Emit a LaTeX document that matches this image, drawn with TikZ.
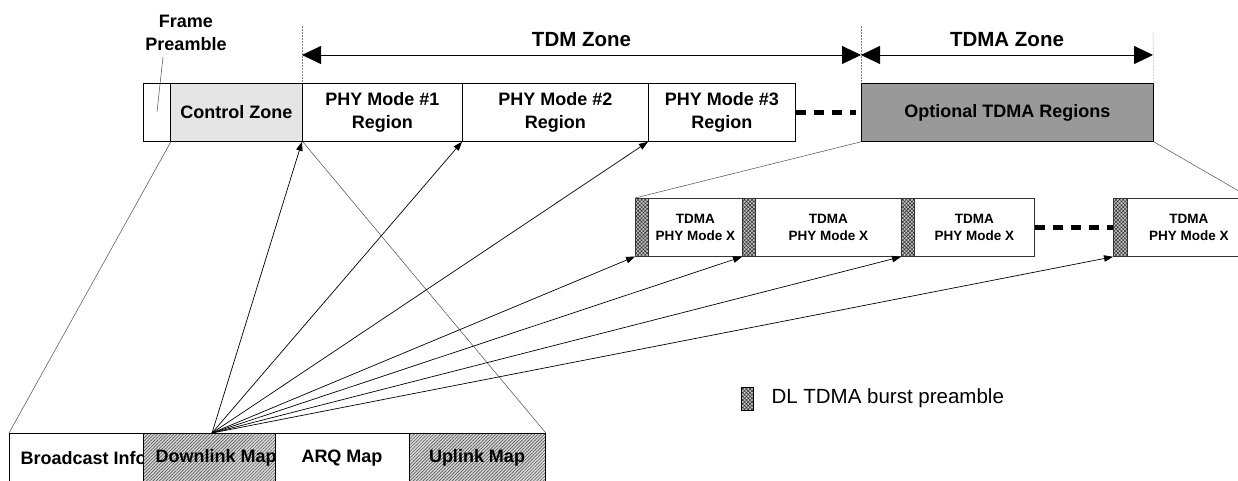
\documentclass[tikz,border=0pt]{standalone}
\usepackage{fontspec}
\setmainfont{Liberation Sans}
\usetikzlibrary{arrows.meta,patterns.meta}
\begin{document}
\begin{tikzpicture}[x=1pt,y=-1pt,
  lbl/.style={font=\fontsize{18}{23}\selectfont\bfseries, align=center},
  small/.style={font=\fontsize{13.5}{17}\selectfont\bfseries, align=center},
  box/.style={draw=black, line width=0.8pt, inner sep=0pt, anchor=north west},
  mbox/.style={draw=black!80, line width=0.8pt, inner sep=0pt, anchor=north west, fill=white, minimum height=58pt},
  hatchmap/.style={preaction={fill=gray!30}, pattern={Lines[angle=45,distance=2.3pt,line width=0.6pt]}, pattern color=gray!70!black},
  hatchstrip/.style={preaction={fill=gray!45}, pattern={Hatch[angle=45,distance=2.6pt,line width=0.55pt]}, pattern color=black!80},
  thinl/.style={line width=0.5pt, draw=black!70},
  fan/.style={line width=0.7pt, -{Triangle[length=9pt,width=6.5pt]}},
  zone/.style={line width=0.8pt, {Triangle[length=19pt,width=18pt]}-{Triangle[length=19pt,width=18pt]}},
  bigdash/.style={line width=5pt, dash pattern=on 10pt off 8pt},
  vdot/.style={line width=0.5pt, draw=gray, densely dotted}
]
\useasboundingbox (0,0) rectangle (1238,481);
\clip (0,0) rectangle (1238,481);

% ---------- top row ----------
\node[box, minimum width=27pt, minimum height=58pt] (fp) at (143,83) {};
\node[box, fill=gray!20, minimum width=132pt, minimum height=58pt, lbl] (cz) at (170,83) {Control Zone};
\node[box, minimum width=160pt, minimum height=58pt, lbl] (p1) at (302,83) {PHY Mode \#1\\Region};
\node[box, minimum width=186pt, minimum height=58pt, lbl] (p2) at (462,83) {PHY Mode \#2\\Region};
\node[box, minimum width=147pt, minimum height=58pt, lbl] (p3) at (648,83) {PHY Mode \#3\\Region};
\node[box, fill=gray!80, minimum width=292pt, minimum height=58pt, lbl] (opt) at (861,83) {Optional TDMA Regions};
\draw[bigdash] (p3.east) -- ([xshift=-5pt]opt.west);

% frame preamble label
\node[lbl] (fpl) at (186,33) {Frame\\Preamble};
\coordinate (fpa) at (163,57);
\coordinate (fpb) at (157,112);
\draw[thinl] (fpa) -- (fpb);

% zone markers
\coordinate (t1) at (302,26);
\coordinate (t2) at (861,26);
\coordinate (t3) at (1153,32);
\draw[vdot] (t1) -- (p1.north west);
\draw[vdot] (t2) -- (opt.north west);
\draw[vdot] (t3) -- (opt.north east);
\coordinate (a1) at (302,55);
\coordinate (a2) at (861,55);
\coordinate (a3) at (1153,55);
\draw[zone] (a1) -- (a2);
\draw[zone] (a2) -- (a3);
\node[font=\fontsize{20.5}{24}\selectfont\bfseries] (tdm) at (581.5,40) {TDM Zone};
\node[font=\fontsize{20.5}{24}\selectfont\bfseries] (tdma) at (1007,40) {TDMA Zone};

% ---------- middle row ----------
\node[mbox, hatchstrip, minimum width=13pt] (s1) at (635,198) {};
\node[mbox, minimum width=94pt, small] (m1) at (648,198) {TDMA\\PHY Mode X};
\node[mbox, hatchstrip, minimum width=13pt] (s2) at (742,198) {};
\node[mbox, minimum width=146pt, small] (m2) at (755,198) {TDMA\\PHY Mode X};
\node[mbox, hatchstrip, minimum width=13pt] (s3) at (901,198) {};
\node[mbox, minimum width=120pt, small] (m3) at (914,198) {TDMA\\PHY Mode X};
\node[mbox, hatchstrip, minimum width=14pt] (s4) at (1113,198) {};
\node[mbox, minimum width=123pt, small] (m4) at (1127,198) {TDMA\\PHY Mode X};
\draw[bigdash] (m3.east) -- (s4.west);

% zoom lines
\draw[thinl] (opt.south west) -- (s1.north west);
\draw[thinl] (opt.south east) -- (m4.north east);

% ---------- bottom row ----------
\node[box, fill=white, minimum width=134pt, minimum height=60pt] (b1) at (9,433) {};
\node[lbl, anchor=west] (b1t) at (17,458) {Broadcast Info};
\node[box, hatchmap, minimum width=132pt, minimum height=60pt] (b2) at (143,433) {};
\node[lbl, anchor=west] (b2t) at (152,458) {Downlink Map};
\node[box, fill=white, minimum width=134pt, minimum height=60pt] (b3) at (275,433) {};
\node[lbl] (b3t) at (342,458) {ARQ Map};
\node[box, hatchmap, minimum width=136pt, minimum height=60pt] (b4) at (409,433) {};
\node[lbl] (b4t) at (477,458) {Uplink Map};

\draw[thinl] (fp.south east) -- (b1.north west);
\draw[thinl] (cz.south east) -- (b4.north east);

% ---------- fan of arrows ----------
\coordinate (dl) at (212,433);
\draw[fan] (dl) -- (p1.south west);
\draw[fan] (dl) -- (p2.south west);
\draw[fan] (dl) -- (p3.south west);
\draw[fan] (dl) -- (s1.south west);
\draw[fan] (dl) -- (s2.south west);
\draw[fan] (dl) -- (s3.south west);
\draw[fan] (dl) -- (s4.south west);

% ---------- legend ----------
\node[box, hatchstrip, minimum width=12pt, minimum height=23pt] (leg) at (741,387) {};
\node[anchor=west, font=\fontsize{20.5}{24}\selectfont] (legt) at (768,398.5) {DL TDMA burst preamble};
\end{tikzpicture}
\end{document}
